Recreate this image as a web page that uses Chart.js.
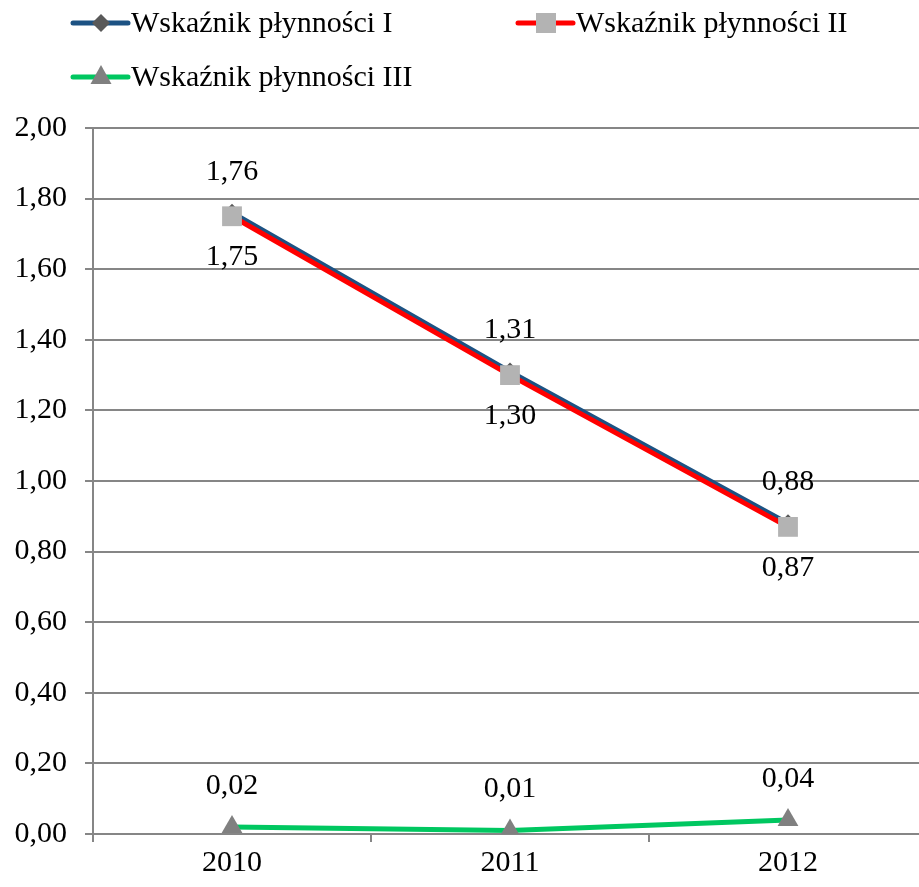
<!DOCTYPE html>
<html>
<head>
<meta charset="utf-8">
<script src="https://cdn.jsdelivr.net/npm/chart.js@4/dist/chart.umd.min.js"></script>
<style>
html,body{margin:0;padding:0;background:#fff;overflow:hidden;}
#wrap{position:relative;width:941px;height:887px;}
</style>
</head>
<body>
<div id="wrap"><canvas id="c" width="941" height="887"></canvas></div>
<script>
const categories = ['2010', '2011', '2012'];
const seriesNames = ['Wskaźnik płynności I', 'Wskaźnik płynności II', 'Wskaźnik płynności III'];
const ratioI = [1.76, 1.31, 0.88];
const ratioII = [1.75, 1.30, 0.87];
const ratioIII = [0.02, 0.01, 0.04];
const yTicks = [0, 0.2, 0.4, 0.6, 0.8, 1.0, 1.2, 1.4, 1.6, 1.8, 2.0];

const FONT = "'Liberation Serif', serif";
const FS = 30;
const fmt = v => v.toFixed(2).replace('.', ',');

const labelPos = ['above', 'below', 'above'];

const dataLabels = {
  id: 'dataLabels',
  afterDatasetsDraw(chart) {
    const ctx = chart.ctx;
    ctx.save();
    ctx.font = FS + 'px ' + FONT;
    ctx.fillStyle = '#000';
    ctx.textAlign = 'center';
    ctx.textBaseline = 'middle';
    chart.data.datasets.forEach((ds, i) => {
      const meta = chart.getDatasetMeta(i);
      meta.data.forEach((pt, j) => {
        const off = ds.labelPos === 'above' ? -41 : 41;
        ctx.fillText(fmt(ds.data[j]), pt.x, pt.y + off);
      });
    });
    ctx.restore();
  }
};

function drawMarker(ctx, style, x, y, color) {
  ctx.fillStyle = color;
  ctx.beginPath();
  if (style === 'rectRot') {
    const r = 9;
    ctx.moveTo(x, y - r); ctx.lineTo(x + r, y); ctx.lineTo(x, y + r); ctx.lineTo(x - r, y);
  } else if (style === 'rect') {
    ctx.rect(x - 10, y - 10, 20, 20);
  } else {
    ctx.moveTo(x, y - 12); ctx.lineTo(x + 10.5, y + 7); ctx.lineTo(x - 10.5, y + 7);
  }
  ctx.closePath();
  ctx.fill();
}

const customLegend = {
  id: 'customLegend',
  afterDraw(chart) {
    const ctx = chart.ctx;
    const spots = [[73, 23], [518, 23], [73, 77]];
    ctx.save();
    chart.data.datasets.forEach((ds, i) => {
      const [x, y] = spots[i];
      ctx.strokeStyle = ds.borderColor;
      ctx.lineWidth = 5;
      ctx.lineCap = 'round';
      ctx.beginPath();
      ctx.moveTo(x, y); ctx.lineTo(x + 55, y);
      ctx.stroke();
      drawMarker(ctx, ds.pointStyle, x + 28, y, ds.pointBackgroundColor);
      ctx.font = FS + 'px ' + FONT;
      ctx.fillStyle = '#000';
      ctx.textAlign = 'left';
      ctx.textBaseline = 'middle';
      ctx.fillText(ds.label, x + 58, y + 1);
    });
    ctx.restore();
  }
};

new Chart(document.getElementById('c'), {
  type: 'line',
  data: {
    labels: categories,
    datasets: [
      { label: seriesNames[0], data: ratioI, borderColor: '#1C5283', borderWidth: 5,
        pointStyle: 'rectRot', pointRadius: 9, pointBackgroundColor: '#595959', pointBorderWidth: 0,
        labelPos: labelPos[0], order: 2, tension: 0 },
      { label: seriesNames[1], data: ratioII, borderColor: '#FF0000', borderWidth: 5,
        pointStyle: 'rect', pointRadius: 14, pointBackgroundColor: '#B3B3B3', pointBorderWidth: 0,
        labelPos: labelPos[1], order: 1, tension: 0 },
      { label: seriesNames[2], data: ratioIII, borderColor: '#00C760', borderWidth: 5,
        pointStyle: 'triangle', pointRadius: 12, pointBackgroundColor: '#808080', pointBorderWidth: 0,
        labelPos: labelPos[2], order: 0, tension: 0 }
    ]
  },
  options: {
    responsive: false,
    animation: false,
    layout: { padding: { top: 128, right: 0, left: 0, bottom: 0 } },
    plugins: { legend: { display: false }, tooltip: { enabled: false } },
    scales: {
      x: {
        offset: true,
        afterFit(s) { s.height = 53; },
        grid: { drawOnChartArea: false, drawTicks: true, tickLength: 8, color: '#868686', lineWidth: 2, offset: true },
        border: { color: '#868686', width: 2 },
        ticks: { color: '#000', font: { family: FONT, size: FS }, padding: 3, maxRotation: 0 }
      },
      y: {
        min: 0, max: 2,
        afterFit(s) { s.width = 93; },
        afterBuildTicks(s) { s.ticks = yTicks.map(v => ({ value: v })); },
        grid: { color: '#868686', lineWidth: 2, tickLength: 8 },
        border: { color: '#868686', width: 2 },
        ticks: { color: '#000', font: { family: FONT, size: FS }, padding: 18, callback: v => fmt(v) }
      }
    }
  },
  plugins: [dataLabels, customLegend]
});
</script>
</body>
</html>
